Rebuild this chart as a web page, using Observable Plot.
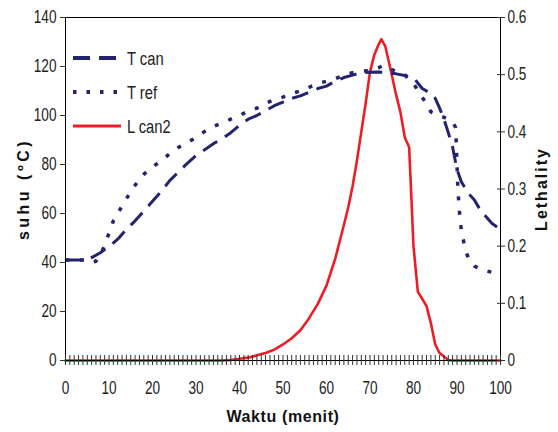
<!DOCTYPE html>
<html><head><meta charset="utf-8">
<script src="https://cdn.jsdelivr.net/npm/d3@7"></script>
<script src="https://cdn.jsdelivr.net/npm/@observablehq/plot@0.6"></script>
<style>
body{margin:0;background:#fff}
#wrap{position:relative;width:558px;height:432px}
#wrap svg{display:block}
g[aria-label="x-axis label"] text,g[aria-label="y-axis label"] text{font-weight:bold;font-family:"Liberation Sans","Arial",sans-serif;font-size:16px;fill:#111}
#legend{position:absolute;left:0;top:0}
</style></head><body><div id="wrap"></div>
<script>
// ---- data ----
const tCanTime = [0,2,4,5,6,8,10,12,14,16,18,20,22,24,26,28,30,32,34,36,38,40,42,44,46,48,50,52,54,56,58,60,62,64,66,68,70,72,74,76,78,80,82,84,85,86,87,88,89,90,91,92,93,94,95,96,98,100];
const tCanTemp = [41,41,41,41,42,44,46.5,49.5,53.5,57,61,65,69,73.5,77,80.5,83.7,86,88.5,90.5,93,96,98.5,100,102,104,105.5,107,108,109.5,111,112,114,115.5,116.5,117.5,117.7,117.8,117.5,117,116.3,115.5,111,109,107,103,98.5,93,87,78,73,70,67.5,65.5,62.5,60,56,53.5];
const tRefTime = [0,2,4,5,6,7,8,9,10,11,12,13,14,15,16,17,18,20,22,24,26,28,30,32,34,36,38,40,42,44,46,48,50,52,54,56,58,60,62,64,66,68,70,72,73,74,76,78,80,82,84,86,88,89,89.7,90.2,90.6,91,92,93,94,96,98,100];
const tRefTemp = [41,41,41,41,40,40.5,43,47,52,57,60,63,66,69,71.5,74,76,79,81.5,84.5,87,89,91,93.5,95.5,97,98.5,100,101.8,103,105,106.5,107.5,109,110,111.5,113,114,115,116.5,117.5,118,118.4,119.5,120.4,119.5,118,116.5,113,107.5,101.5,100,98.5,97.5,95,70,60,53,44.5,40.5,38.5,37,36,35.5];
const lCanTime = [0,36,38,40,42,44,46,48,50,52,54,56,58,60,62,64,65,66,67,68,69,70,71,72,72.6,73.5,75,76,77,78,79,80,81,82,83,84,85,86,87,88,89,100];
const lCanVal = [0,0,0.001,0.003,0.005,0.009,0.013,0.019,0.028,0.039,0.053,0.074,0.099,0.131,0.178,0.237,0.268,0.305,0.35,0.40,0.45,0.505,0.535,0.553,0.562,0.55,0.50,0.465,0.434,0.39,0.373,0.2,0.12,0.108,0.095,0.065,0.028,0.013,0.007,0.001,0,0];
const timeTicks = [0,10,20,30,40,50,60,70,80,90,100];
const tempTicks = [0,20,40,60,80,100,120,140];
const lethalTicks = [0,0.1,0.2,0.3,0.4,0.5,0.6];
const seriesNames = ["T can","T ref","L can2"];

// ---- styling ----
const navy = "#232370", red = "#ee1d25";
const canDash = "17,9", refDash = "4,10.5";
const tempMax = 140, lethalMax = 0.6, k = tempMax / lethalMax;
const font = "'Liberation Sans','Arial',sans-serif";

const canData = tCanTime.map((t,i)=>({t, v:tCanTemp[i]}));
const refData = tRefTime.map((t,i)=>({t, v:tRefTemp[i]}));
const lData = lCanTime.map((t,i)=>({t, v:lCanVal[i]*k}));
const minutes = d3.range(0, 101, 1);

const plot = Plot.plot({
  width: 558, height: 432,
  marginLeft: 65, marginRight: 58, marginTop: 17, marginBottom: 72,
  style: {fontFamily: font, fontSize: "17px", color: "#222", background: "#fff", overflow: "visible"},
  x: {domain: [0, 100]},
  y: {domain: [0, tempMax]},
  marks: [
    Plot.line(lData, {x: "t", y: "v", stroke: red, strokeWidth: 2.6, strokeLinejoin: "round"}),
    Plot.line(refData, {x: "t", y: "v", stroke: navy, strokeWidth: 3.5, strokeDasharray: refDash, strokeLinecap: "butt"}),
    Plot.line(canData, {x: "t", y: "v", stroke: navy, strokeWidth: 3, strokeDasharray: canDash, strokeLinecap: "butt"}),
    Plot.frame({stroke: "#000", strokeWidth: 1}),
    Plot.axisX(minutes, {anchor: "bottom", tickSize: 5, text: null, label: null, stroke: "#333"}),
    Plot.axisX(minutes, {anchor: "bottom", tickSize: 5, dy: -5, text: null, label: null, stroke: "#333"}),
    Plot.axisX(timeTicks, {anchor: "bottom", tickSize: 0, tickPadding: 21, tickFormat: d => String(d),
      label: "Waktu (menit)", labelAnchor: "center", labelArrow: "none", labelOffset: 61}),
    Plot.axisY(tempTicks, {anchor: "left", tickSize: 5, tickPadding: 4, tickFormat: d => String(d),
      label: "suhu (ºC)", labelAnchor: "center", labelArrow: "none", labelOffset: 48, stroke: "#333"}),
    Plot.axisY(lethalTicks.map(v => v * k), {anchor: "right", tickSize: 4, tickPadding: 3,
      tickFormat: (d, i) => String(lethalTicks[i]),
      label: "Lethality", labelAnchor: "center", labelArrow: "none", labelOffset: 46, stroke: "#333"}),
    Plot.axisY(lethalTicks.map(v => v * k), {anchor: "right", tickSize: 4, dx: -4, text: null, label: null, stroke: "#333"})
  ]
});
const wrap = document.getElementById("wrap");
wrap.appendChild(plot);

// narrow the tick label glyphs (the reference uses a condensed face)
d3.select(plot).selectAll('g[aria-label$="tick label"] text').each(function() {
  const tr = this.getAttribute("transform") || "";
  this.setAttribute("transform", tr + " scale(0.8,1.05)");
});
d3.select(plot).selectAll('g[aria-label$="axis label"] text').each(function() {
  const t = this.textContent;
  const sp = t.startsWith("suhu") ? "3.5px" : t.startsWith("Leth") ? "2px" : "0.6px";
  this.style.letterSpacing = sp;
});

// legend overlay (inside plot area, top-left)
const leg = d3.select(wrap).append("svg").attr("id","legend").attr("width",558).attr("height",432);
const styles = [
  {stroke: navy, w: 4, dash: canDash},
  {stroke: navy, w: 4, dash: "3.5,10"},
  {stroke: red, w: 3, dash: null}
];
const rowY = [58, 92, 126];
seriesNames.forEach((name, i) => {
  const g = leg.append("g").attr("transform", `translate(73,${rowY[i]})`);
  g.append("line").attr("x1",0).attr("x2",48).attr("y1",0).attr("y2",0)
    .attr("stroke",styles[i].stroke).attr("stroke-width",styles[i].w)
    .attr("stroke-dasharray",styles[i].dash);
  g.append("text").attr("transform","translate(54,0) scale(0.82,1.05)").attr("dy","0.36em")
    .attr("font-family",font).attr("font-size",18).attr("fill","#222").text(name);
});
</script>
</body></html>
